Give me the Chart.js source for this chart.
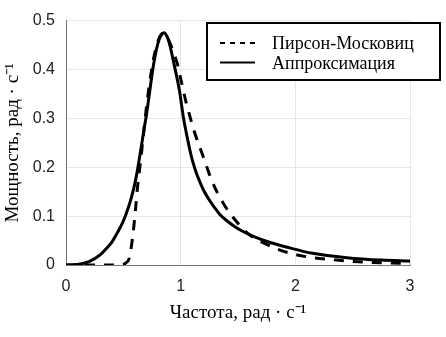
<!DOCTYPE html>
<html>
<head>
<meta charset="utf-8">
<script src="https://cdn.jsdelivr.net/npm/chart.js@4/dist/chart.umd.min.js"></script>
<style>
  html, body { margin: 0; padding: 0; background: #fff; }
  #wrap { width: 446px; height: 337px; }
</style>
</head>
<body>
<div id="wrap"><canvas id="spectrum" width="446" height="337"></canvas></div>
<script>
// Pierson-Moskowitz spectrum
const freqPM = [0, 0.3, 0.48, 0.52, 0.55, 0.58, 0.604, 0.624, 0.647, 0.668, 0.70, 0.74, 0.78, 0.82, 0.85, 0.88, 0.91, 0.94, 0.975, 1.005, 1.047, 1.09, 1.12, 1.19, 1.28, 1.37, 1.49, 1.6, 1.78, 1.94, 2.15, 2.36, 2.55, 2.75, 3.0];
const powerPM = [0, 0, 0, 0.004, 0.013, 0.055, 0.108, 0.16, 0.206, 0.25, 0.32, 0.39, 0.44, 0.468, 0.475, 0.468, 0.452, 0.434, 0.408, 0.376, 0.333, 0.296, 0.272, 0.226, 0.168, 0.127, 0.088, 0.062, 0.039, 0.025, 0.015, 0.010, 0.0065, 0.0045, 0.003];

// approximation
const freqFit = [0, 0.1, 0.2, 0.25, 0.3, 0.36, 0.4, 0.46, 0.5, 0.54, 0.57, 0.6, 0.62, 0.64, 0.66, 0.68, 0.7, 0.73, 0.76, 0.8, 0.83, 0.855, 0.88, 0.9, 0.945, 0.99, 1.025, 1.06, 1.09, 1.12, 1.15, 1.2, 1.25, 1.3, 1.34, 1.4, 1.47, 1.54, 1.65, 1.78, 1.95, 2.15, 2.45, 2.75, 3.0];
const powerFit = [0, 0.001, 0.007, 0.013, 0.021, 0.036, 0.047, 0.071, 0.090, 0.115, 0.138, 0.166, 0.19, 0.218, 0.247, 0.277, 0.305, 0.355, 0.405, 0.452, 0.47, 0.475, 0.468, 0.455, 0.408, 0.356, 0.30, 0.258, 0.225, 0.200, 0.180, 0.153, 0.133, 0.116, 0.104, 0.091, 0.079, 0.069, 0.057, 0.046, 0.035, 0.024, 0.015, 0.010, 0.008];

const seriesNames = ["Пирсон-Московиц", "Аппроксимация"];
const xTicks = [0, 1, 2, 3];
const yTicks = [0, 0.1, 0.2, 0.3, 0.4, 0.5];
const xTitle = "Частота, рад · с⁻¹";
const yTitle = "Мощность, рад · с⁻¹";

const toPoints = (xs, ys) => xs.map((x, i) => ({ x, y: ys[i] }));

const serif = "'Liberation Serif', 'Times New Roman', serif";
const sans = "'Liberation Sans', Arial, sans-serif";

// boxed legend inside the upper right corner
const boxLegend = {
  id: "boxLegend",
  afterDraw(chart) {
    const ctx = chart.ctx;
    const sets = chart.data.datasets;
    const x = 207, y = 23, w = 233, h = 57;
    ctx.save();
    ctx.fillStyle = "#fff";
    ctx.fillRect(x, y, w, h);
    ctx.strokeStyle = "#000";
    ctx.lineWidth = 2;
    ctx.strokeRect(x, y, w, h);
    ctx.font = "18px " + serif;
    ctx.textBaseline = "alphabetic";
    ctx.fillStyle = "#000";
    sets.forEach((ds, i) => {
      const ly = 43 + i * 19.5;
      ctx.beginPath();
      ctx.lineWidth = 2;
      ctx.setLineDash(ds.borderDash && ds.borderDash.length ? [5, 5] : []);
      ctx.moveTo(220, ly);
      ctx.lineTo(255, ly);
      ctx.stroke();
      ctx.setLineDash([]);
      ctx.fillText(ds.label, 272, ly + 6);
    });
    ctx.restore();
  }
};

new Chart(document.getElementById("spectrum"), {
  type: "line",
  data: {
    datasets: [
      {
        label: seriesNames[0],
        data: toPoints(freqPM, powerPM),
        borderColor: "#000",
        borderWidth: 3,
        borderDash: [10, 9],
        pointRadius: 0,
        cubicInterpolationMode: "monotone",
        fill: false
      },
      {
        label: seriesNames[1],
        data: toPoints(freqFit, powerFit),
        borderColor: "#000",
        borderWidth: 3,
        pointRadius: 0,
        cubicInterpolationMode: "monotone",
        fill: false
      }
    ]
  },
  options: {
    responsive: false,
    animation: false,
    layout: { padding: { top: 10, right: 36, left: 0, bottom: 0 } },
    plugins: {
      legend: { display: false },
      tooltip: { enabled: false }
    },
    scales: {
      x: {
        type: "linear",
        min: 0,
        max: 3,
        afterBuildTicks: (s) => { s.ticks = xTicks.map(v => ({ value: v })); },
        afterFit: (s) => { s.height = 72; },
        grid: { color: "#e6e6e6", drawTicks: false },
        border: { color: "#777", width: 1 },
        ticks: {
          padding: 12,
          color: "#222",
          font: { family: sans, size: 16 },
          callback: (v) => String(v)
        },
        title: {
          display: true,
          text: xTitle,
          color: "#000",
          font: { family: serif, size: 19 },
          padding: { top: 0, bottom: 13 }
        }
      },
      y: {
        min: 0,
        max: 0.5,
        afterBuildTicks: (s) => { s.ticks = yTicks.map(v => ({ value: v })); },
        afterFit: (s) => { s.width = 66; },
        grid: { color: "#e6e6e6", drawTicks: false },
        border: { color: "#777", width: 1 },
        ticks: {
          padding: 11,
          color: "#222",
          font: { family: sans, size: 16 },
          callback: (v) => String(v)
        },
        title: {
          display: true,
          text: yTitle,
          color: "#000",
          font: { family: serif, size: 19 },
          padding: { top: 2, bottom: 0 }
        }
      }
    }
  },
  plugins: [boxLegend]
});
</script>
</body>
</html>
